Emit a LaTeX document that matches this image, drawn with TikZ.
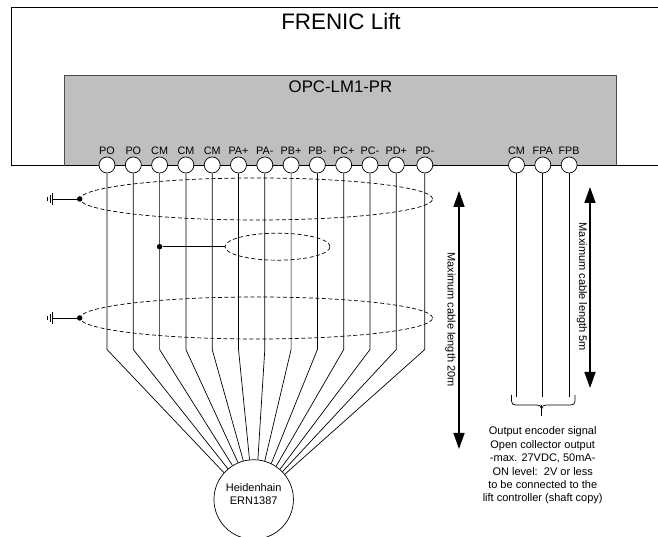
\documentclass[tikz,border=0pt]{standalone}
\usepackage{fontspec}
\setmainfont{Liberation Sans}
\usepackage{tikz}
\usetikzlibrary{shapes.geometric, arrows.meta, calc}

\begin{document}
\begin{tikzpicture}[x=1pt,y=1pt,node distance=26.3pt]
\tikzstyle{terminal} = [circle, draw=black, fill=white, minimum size=16pt, inner sep=0pt, line width=0.7pt]
\tikzstyle{screen} = [ellipse, dash pattern=on 4pt off 2.5pt, draw=black, inner sep=0pt, line width=0.7pt]
\tikzstyle{dot} = [circle, fill=black, inner sep=0pt, minimum size=5.5pt]
\tikzstyle{pin} = [font=\fontsize{10.8}{11}\selectfont, inner sep=0pt, yshift=2pt]
\tikzstyle{wire} = [line width=0.7pt]
\tikzstyle{limit} = [line width=1.5pt,{Triangle[length=16pt,width=11pt]}-{Triangle[length=16pt,width=11pt]}]
\tikzstyle{note} = [font=\fontsize{11}{12}\selectfont, rotate=-90, inner sep=0pt]
\useasboundingbox (0,0) rectangle (658,537);
\clip (0,0) rectangle (658,537);
% Frames
\node (inverter) [inner sep=0pt, font=\fontsize{22.4}{24}\selectfont] at (341,515) {FRENIC Lift};
\draw [wire] (658,529.5) -- (11.5,529.5) -- (11.5,372) -- (658,372);
\draw [draw=black!70, fill=black!25, line width=0.7pt] (64.5,372) rectangle (616.5,461.5);
\draw [wire] (64.5,372) -- (616.5,372);
\node (option) [inner sep=0pt, font=\fontsize{16.8}{18}\selectfont] at (340.5,450) {OPC-LM1-PR};
% Terminals
\node (po1) [terminal, label={[pin]above:PO}] at (107,372) {};
\node (po2) [terminal, label={[pin]above:PO}, right of=po1] {};
\node (cm1) [terminal, label={[pin]above:CM}, right of=po2] {};
\node (cm2) [terminal, label={[pin]above:CM}, right of=cm1] {};
\node (cm3) [terminal, label={[pin]above:CM}, right of=cm2] {};
\node (pap) [terminal, label={[pin]above:PA+}, right of=cm3] {};
\node (pam) [terminal, label={[pin]above:PA-}, right of=pap] {};
\node (pbp) [terminal, label={[pin]above:PB+}, right of=pam] {};
\node (pbm) [terminal, label={[pin]above:PB-}, right of=pbp] {};
\node (pcp) [terminal, label={[pin]above:PC+}, right of=pbm] {};
\node (pcm) [terminal, label={[pin]above:PC-}, right of=pcp] {};
\node (pdp) [terminal, label={[pin]above:PD+}, right of=pcm] {};
\node (pdm) [terminal, label={[pin]above:PD-}, right of=pdp, xshift=2.2pt] {};
\node (cm4) [terminal, label={[pin]above:CM}] at (516.5,372) {};
\node (fpa) [terminal, label={[pin]above:FPA}, right of=cm4] {};
\node (fpb) [terminal, label={[pin]above:FPB}, right of=fpa] {};
% Encoder
\node (encoder) [circle, draw=black, minimum size=79.5pt, inner sep=0pt, line width=0.7pt] at (253.7,37.5) {};
\node (encoder_text) [inner sep=0pt, align=center, font=\fontsize{11}{13}\selectfont] at ($(encoder) + (0,5.5pt)$) {Heidenhain\\ERN1387};
% Wires
\draw [wire] (po1.south) -- ($(po1) - (0,184.5pt)$) -- (encoder.138);
\draw [wire] (po2.south) -- ($(po2) - (0,184.5pt)$) -- (encoder.130);
\draw [wire] (cm1.south) -- ($(cm1) - (0,184.5pt)$) -- (encoder.122);
\draw [wire] (cm2.south) -- ($(cm2) - (0,184.5pt)$) -- (encoder.113);
\draw [wire] (cm3.south) -- ($(cm3) - (0,184.5pt)$) -- (encoder.105);
\draw [wire] (pap.south) -- ($(pap) - (0,184.5pt)$) -- (encoder.96);
\draw [wire] (pam.south) -- ($(pam) - (0,184.5pt)$) -- (encoder.84);
\draw [wire] (pbp.south) -- ($(pbp) - (0,184.5pt)$) -- (encoder.74);
\draw [wire] (pbm.south) -- ($(pbm) - (0,184.5pt)$) -- (encoder.64);
\draw [wire] (pcp.south) -- ($(pcp) - (0,184.5pt)$) -- (encoder.56);
\draw [wire] (pcm.south) -- ($(pcm) - (0,184.5pt)$) -- (encoder.49);
\draw [wire] (pdp.south) -- ($(pdp) - (0,184.5pt)$) -- (encoder.44);
\draw [wire] (pdm.south) -- ($(pdm) - (0,184.5pt)$) -- (encoder.39);
\draw [wire] (cm4.south) -- ($(cm4) - (0,232pt)$);
\draw [wire] (fpa.south) -- ($(fpa) - (0,232pt)$);
\draw [wire] (fpb.south) -- ($(fpb) - (0,232pt)$);
% Screens
\node (screen1) [screen, minimum width=352.5pt, minimum height=42pt] at (256.3,338) {};
\node (screen2) [screen, minimum width=352.5pt, minimum height=42pt] at (256.3,219) {};
\node (screen3) [screen, minimum width=105pt, minimum height=27pt] at (277.5,290.3) {};
\node (earth1) [dot] at (screen1.west) {};
\node (earth2) [dot] at (screen2.west) {};
\node (tap) [dot] at (159.6,290.3) {};
\draw [wire] (earth1) -- ($(earth1) - (27pt,0)$) coordinate (gnd1);
\draw [wire] (earth2) -- ($(earth2) - (27pt,0)$) coordinate (gnd2);
\draw [wire] (tap) -- (screen3.west);
% Low level drawing of the earth marks
\draw [wire] ($(gnd1) + (0,6pt)$) -- ($(gnd1) - (0,6pt)$);
\draw [wire] ($(gnd1) + (-2.5pt,4pt)$) -- ($(gnd1) - (2.5pt,4pt)$);
\draw [wire] ($(gnd1) + (-5pt,2pt)$) -- ($(gnd1) - (5pt,2pt)$);
\draw [wire] ($(gnd2) + (0,6pt)$) -- ($(gnd2) - (0,6pt)$);
\draw [wire] ($(gnd2) + (-2.5pt,4pt)$) -- ($(gnd2) - (2.5pt,4pt)$);
\draw [wire] ($(gnd2) + (-5pt,2pt)$) -- ($(gnd2) - (5pt,2pt)$);
% Length arrows
\coordinate (long_top) at (459,346);
\coordinate (long_bot) at (459,88);
\coordinate (short_top) at (590,350);
\coordinate (short_bot) at (590,149);
\draw [limit] (long_bot) -- (long_top);
\draw [limit] (short_bot) -- (short_top);
\node (long_note) [note] at (450.5,217.5) {Maximum cable length 20m};
\node (short_note) [note] at (582,250) {Maximum cable length 5m};
% Brace
\draw [wire] (511.5,142) -- (511.5,136) .. controls (511.5,133) and (513,132) .. (516,132) -- (537,132) .. controls (540,132) and (541,131) .. (541.7,128) .. controls (542.4,131) and (543.4,132) .. (546.4,132) -- (570.5,132) .. controls (573.5,132) and (575,133) .. (575,136) -- (575,142);
\draw [wire] (541.7,132) -- (541.7,120.5);
\node (output) [inner sep=0pt, align=center, font=\fontsize{11}{13.4}\selectfont] at (542.7,71.5) {Output encoder signal\\Open collector output\\-max. 27VDC, 50mA-\\ON level:\ \ 2V or less\\to be connected to the\\lift controller (shaft copy)};
\end{tikzpicture}
\end{document}
